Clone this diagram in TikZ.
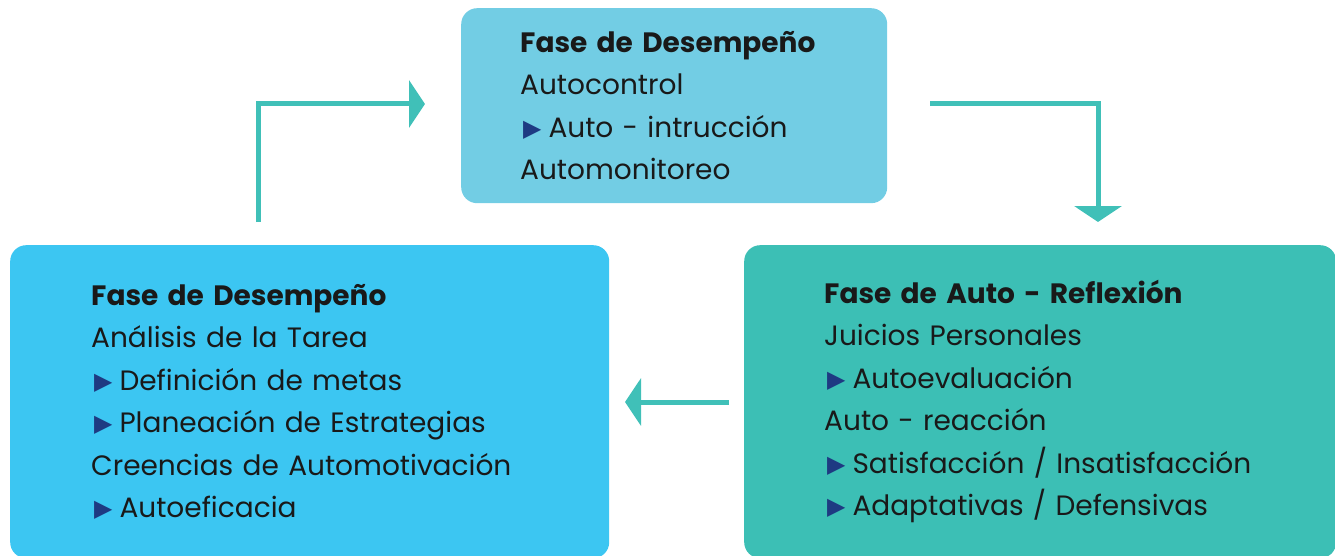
\documentclass[tikz,border=0pt]{standalone}
\usepackage{fontspec}
\setmainfont{Poppins}
\newfontfamily\symfont{DejaVu Sans}
\usetikzlibrary{positioning, arrows.meta}
\usepackage{color}
\definecolor{top_blue}{RGB}{114,205,228}
\definecolor{left_blue}{RGB}{60,198,242}
\definecolor{right_teal}{RGB}{60,191,181}
\definecolor{arrow_teal}{RGB}{64,192,184}
\definecolor{bullet_blue}{RGB}{30,58,130}
\newcommand{\tri}{\hspace{3pt}\raisebox{1pt}{\color{bullet_blue}\symfont\scalebox{0.85}{▶}}\hspace{7pt}}

\begin{document}
\begin{tikzpicture}[x=1pt, y=-1pt,
		phase/.style={rectangle, rounded corners=16pt, anchor=north west, align=left,
			font=\fontsize{28}{42.5}\selectfont, text=black!90},
		flow/.style={arrow_teal, line width=5pt, -{Triangle[length=16pt, width=47pt]}}]
			\useasboundingbox (0,0) rectangle (1335,556);
			% --- Phase boxes ---
			\node [phase, fill=top_blue, inner xsep=59pt, text width=308pt, minimum width=426pt, minimum height=195pt] (desempeno_top) at (461,8) {
				\textbf{Fase de Desempeño} \\
				Autocontrol \\
				\tri Auto - intrucción \\
				Automonitoreo
			};
			\node [phase, fill=left_blue, inner xsep=81pt, text width=437pt, minimum width=599pt, minimum height=313pt] (desempeno_left) at (10,245) {
				\textbf{Fase de Desempeño} \\
				Análisis de la Tarea \\
				\tri Definición de metas \\
				\tri Planeación de Estrategias \\
				Creencias de Automotivación \\
				\tri Autoeficacia
			};
			\node [phase, fill=right_teal, inner xsep=80pt, text width=432pt, minimum width=592pt, minimum height=313pt] (reflexion) at (744,245) {
				\textbf{Fase de Auto - Reflexión} \\
				Juicios Personales \\
				\tri Autoevaluación \\
				Auto - reacción \\
				\tri Satisfacción / Insatisfacción \\
				\tri Adaptativas / Defensivas
			};
			% --- Cycle arrows ---
			\coordinate (left_out) at (258,222);
			\coordinate (top_in) at (425,104);
			\coordinate (top_out) at (930,104);
			\coordinate (right_in) at (1098,222);
			\coordinate (right_out) at (729,402);
			\coordinate (left_in) at (625,402);
			\draw [flow] (left_out) |- (top_in);
			\draw [flow] (top_out) -| (right_in);
			\draw [flow] (right_out) -- (left_in);
		\end{tikzpicture}
\end{document}
